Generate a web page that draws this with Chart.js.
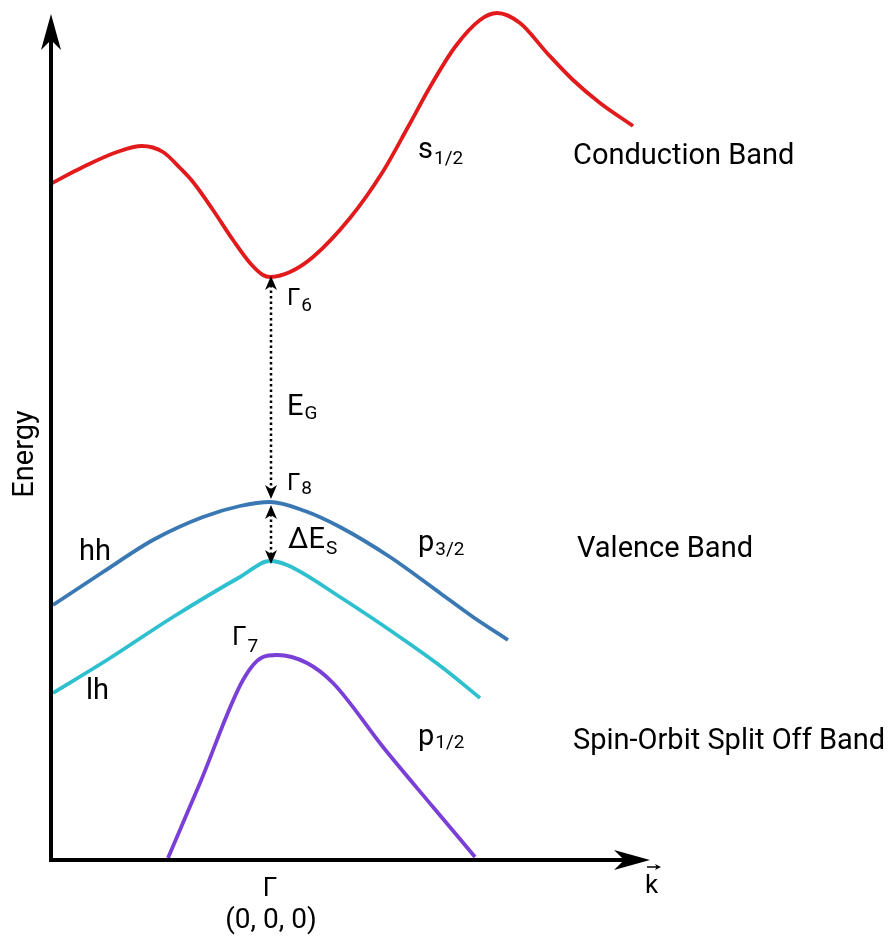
<!DOCTYPE html>
<html>
<head>
<meta charset="utf-8">
<script src="https://cdn.jsdelivr.net/npm/chart.js@4.4.1/dist/chart.umd.min.js"></script>
<style>
  html, body { margin: 0; padding: 0; background: #fff; }
  canvas { display: block; }
</style>
</head>
<body>
<canvas id="bandas" width="890" height="938"></canvas>
<script>
// --- Dados das bandas (k, E), Γ em k = 0, topo da banda de valência em E = 0 ---
const conducaoK = [-2.18, -1.87, -1.53, -1.28, -1.07, -0.90, -0.77, -0.57, -0.37, -0.20, -0.07, 0, 0.20, 0.43, 0.80, 1.12, 1.38, 1.60, 1.85, 2.10, 2.27, 2.50, 2.77, 3.03, 3.30, 3.63];
const conducaoE = [3.19, 3.35, 3.50, 3.56, 3.50, 3.34, 3.20, 2.92, 2.62, 2.39, 2.27, 2.25, 2.30, 2.45, 2.84, 3.29, 3.75, 4.15, 4.55, 4.82, 4.89, 4.79, 4.49, 4.22, 3.99, 3.76];

const hhK = [-2.17, -1.67, -1.17, -0.67, -0.30, 0, 0.35, 0.70, 1.20, 1.70, 2.03, 2.38];
const hhE = [-1.03, -0.70, -0.38, -0.15, -0.04, 0, -0.09, -0.25, -0.55, -0.91, -1.15, -1.38];

const lhK = [-2.17, -1.63, -0.97, -0.30, 0, 0.17, 0.70, 1.37, 1.73, 2.10];
const lhE = [-1.91, -1.58, -1.15, -0.75, -0.59, -0.63, -0.95, -1.40, -1.66, -1.96];

const soK = [-1.02, -0.70, -0.27, -0.07, 0.07, 0.37, 0.63, 1.13, 1.63, 2.05];
const soE = [-3.56, -2.81, -1.78, -1.55, -1.53, -1.61, -1.81, -2.45, -3.05, -3.55];

// níveis em Γ
const nivelGamma6 = 2.25;
const nivelGamma8 = 0;
const nivelLh = -0.59;

// limites dos eixos
const kMin = -2.19, kMax = 3.80;
const eMin = -3.58, eMax = 4.95, eSeta = 4.88;

const pares = (xs, ys) => xs.map((x, i) => ({ x: x, y: ys[i] }));

function setaCheia(ctx, x, y, dx, dy, comp, larg) {
  // ponta em (x, y), direção (dx, dy)
  const px = -dy, py = dx;
  ctx.beginPath();
  ctx.moveTo(x, y);
  ctx.lineTo(x - dx * comp + px * larg, y - dy * comp + py * larg);
  ctx.lineTo(x - dx * comp * 0.72, y - dy * comp * 0.72);
  ctx.lineTo(x - dx * comp - px * larg, y - dy * comp - py * larg);
  ctx.closePath();
  ctx.fill();
}

function setaPontilhada(ctx, x, y1, y2) {
  // seta dupla vertical pontilhada entre y1 (topo) e y2 (base)
  ctx.save();
  ctx.strokeStyle = '#000';
  ctx.fillStyle = '#000';
  ctx.lineWidth = 2.5;
  ctx.setLineDash([2.5, 3]);
  ctx.beginPath();
  ctx.moveTo(x, y1 + 9);
  ctx.lineTo(x, y2 - 9);
  ctx.stroke();
  ctx.setLineDash([]);
  setaCheia(ctx, x, y1, 0, -1, 14, 6);
  setaCheia(ctx, x, y2, 0, 1, 14, 6);
  ctx.restore();
}

function textoSub(ctx, base, sub, x, y, tamBase, tamSub, desce) {
  ctx.font = tamBase + 'px Roboto';
  ctx.fillText(base, x, y);
  const w = ctx.measureText(base).width;
  ctx.font = tamSub + 'px Roboto';
  ctx.fillText(sub, x + w + 1, y + desce);
}

const anotacoes = {
  id: 'anotacoes',
  afterDraw(chart) {
    const ctx = chart.ctx;
    const xs = chart.scales.x, ys = chart.scales.y;
    const area = chart.chartArea;
    const x0 = area.left, y0 = area.bottom;
    const yTopo = ys.getPixelForValue(eSeta);
    const xFim = xs.getPixelForValue(kMax);

    ctx.save();
    // eixos
    ctx.strokeStyle = '#000';
    ctx.fillStyle = '#000';
    ctx.lineWidth = 4;
    ctx.beginPath();
    ctx.moveTo(x0, yTopo + 20);
    ctx.lineTo(x0, y0);
    ctx.lineTo(xFim - 20, y0);
    ctx.stroke();
    setaCheia(ctx, x0, yTopo, 0, -1, 36, 10);
    setaCheia(ctx, xFim, y0, 1, 0, 36, 10);

    // setas em Γ
    const xg = xs.getPixelForValue(0) + 1;
    setaPontilhada(ctx, xg, ys.getPixelForValue(nivelGamma6) - 1, ys.getPixelForValue(nivelGamma8) - 3);
    setaPontilhada(ctx, xg, ys.getPixelForValue(nivelGamma8) + 3, ys.getPixelForValue(nivelLh) + 3);

    // textos
    ctx.fillStyle = '#000';
    ctx.textBaseline = 'alphabetic';
    ctx.textAlign = 'left';

    textoSub(ctx, 'Γ', '6', 287, 305, 24, 19, 6);
    textoSub(ctx, 'E', 'G', 287, 415, 29, 19, 4);
    textoSub(ctx, 'Γ', '8', 287, 490, 24, 19, 4);
    textoSub(ctx, 'ΔE', 'S', 288, 548, 29, 19, 6);
    textoSub(ctx, 'Γ', '7', 232, 645, 26, 19, 7);
    textoSub(ctx, 's', '1/2', 418, 158, 29, 19, 6);
    textoSub(ctx, 'p', '3/2', 418, 551, 29, 19, 4);
    textoSub(ctx, 'p', '1/2', 418, 745, 29, 19, 3);

    ctx.font = '29px Roboto';
    ctx.fillText('Conduction Band', 573, 164);
    ctx.fillText('Valence Band', 577, 557);
    ctx.fillText('Spin-Orbit Split Off Band', 573, 749);
    ctx.fillText('hh', 79, 560);
    ctx.fillText('lh', 86, 699);

    ctx.textAlign = 'center';
    ctx.font = '26px Roboto';
    ctx.fillText('Γ', 270, 896);
    ctx.font = '28px Roboto';
    ctx.fillText('(0, 0, 0)', 271, 928);

    // vetor k
    ctx.textAlign = 'left';
    ctx.font = '26px Roboto';
    ctx.fillText('k', 645, 893);
    ctx.lineWidth = 1.5;
    ctx.beginPath();
    ctx.moveTo(647, 867);
    ctx.lineTo(657, 867);
    ctx.stroke();
    setaCheia(ctx, 661, 867, 1, 0, 6, 3);

    // rótulo do eixo vertical
    ctx.translate(33, 454);
    ctx.rotate(-Math.PI / 2);
    ctx.textAlign = 'center';
    ctx.font = '29px Roboto';
    ctx.fillText('Energy', 0, 0);
    ctx.restore();
  }
};

function serie(dados, cor) {
  return {
    data: dados,
    borderColor: cor,
    borderWidth: 3.8,
    pointRadius: 0,
    fill: false,
    cubicInterpolationMode: 'monotone'
  };
}

function desenhar() {
  const ctx = document.getElementById('bandas').getContext('2d');
  new Chart(ctx, {
    type: 'line',
    data: {
      datasets: [
        serie(pares(conducaoK, conducaoE), '#e31a1c'),
        serie(pares(hhK, hhE), '#3a78b4'),
        serie(pares(lhK, lhE), '#2ec0cf'),
        serie(pares(soK, soE), '#7a3fd6')
      ]
    },
    options: {
      responsive: false,
      animation: false,
      devicePixelRatio: 1,
      layout: { padding: { left: 51, right: 240, top: 7, bottom: 78 } },
      scales: {
        x: { type: 'linear', min: kMin, max: kMax, display: false },
        y: { type: 'linear', min: eMin, max: eMax, display: false }
      },
      plugins: {
        legend: { display: false },
        tooltip: { enabled: false }
      }
    },
    plugins: [anotacoes]
  });
}

document.fonts.load('29px Roboto').then(desenhar, desenhar);
</script>
</body>
</html>
